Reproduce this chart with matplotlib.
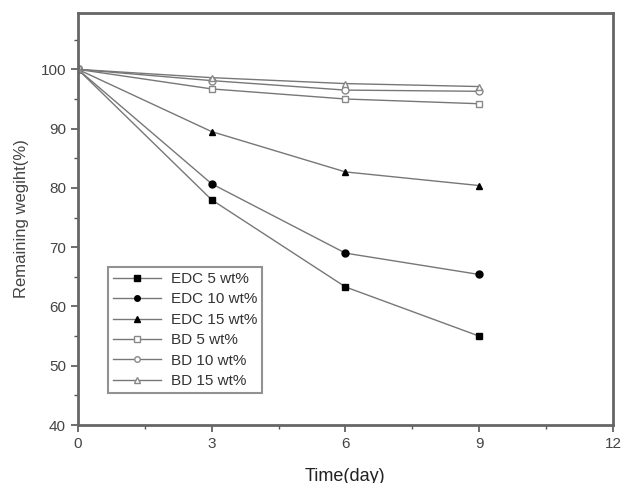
import numpy as np
import matplotlib.pyplot as plt
from matplotlib.ticker import MultipleLocator

plt.rcParams['font.family'] = ['Liberation Sans', 'DejaVu Sans']

# Degradation data
days = [0, 3, 6, 9]
edc_5 = [100, 78.0, 63.3, 55.0]
edc_10 = [100, 80.7, 69.0, 65.4]
edc_15 = [100, 89.5, 82.7, 80.4]
bd_5 = [100, 96.7, 95.0, 94.2]
bd_10 = [100, 98.1, 96.5, 96.3]
bd_15 = [100, 98.6, 97.6, 97.1]

series = [
    ('EDC 5 wt%', edc_5, 's', 'black'),
    ('EDC 10 wt%', edc_10, 'o', 'black'),
    ('EDC 15 wt%', edc_15, '^', 'black'),
    ('BD 5 wt%', bd_5, 's', 'white'),
    ('BD 10 wt%', bd_10, 'o', 'white'),
    ('BD 15 wt%', bd_15, '^', 'white'),
]

fig = plt.figure(figsize=(6.28, 4.83), dpi=100)
ax = fig.add_axes([0.124, 0.12, 0.852, 0.853])

for label, vals, mk, fc in series:
    ax.plot(days, vals, '-', color='#777777', lw=1.0, marker=mk, ms=5,
            mfc=fc, mec='black' if fc == 'black' else '#888888', mew=1.0,
            label=label)

ax.set_xlim(0, 12)
ax.set_ylim(40, 109.5)
ax.xaxis.set_major_locator(MultipleLocator(3))
ax.xaxis.set_minor_locator(MultipleLocator(1.5))
ax.yaxis.set_minor_locator(MultipleLocator(5))
ax.set_yticks([40, 50, 60, 70, 80, 90, 100])
ax.tick_params(which='both', direction='out', colors='#555555', labelcolor='#444444',
               labelsize=11)
ax.tick_params(which='major', length=5, width=1.2)
ax.tick_params(which='minor', length=3, width=1)
for s in ax.spines.values():
    s.set_color('#666666')
    s.set_linewidth(2)

ax.set_xlabel('Time(day)', fontsize=13, color='#222222', labelpad=12)
ax.set_ylabel('Remaining wegiht(%)', fontsize=12, color='#444444', labelpad=8)

leg = ax.legend(loc='lower left', bbox_to_anchor=(0.042, 0.06), fontsize=11,
                frameon=True, fancybox=False, handlelength=3.2, borderpad=0.3,
                labelspacing=0.42, handletextpad=0.6, markerscale=0.8)
leg.get_frame().set_edgecolor('#777777')
leg.get_frame().set_linewidth(1.5)
for t in leg.get_texts():
    t.set_color('#333333')

fig.savefig('out.png', dpi=100)
